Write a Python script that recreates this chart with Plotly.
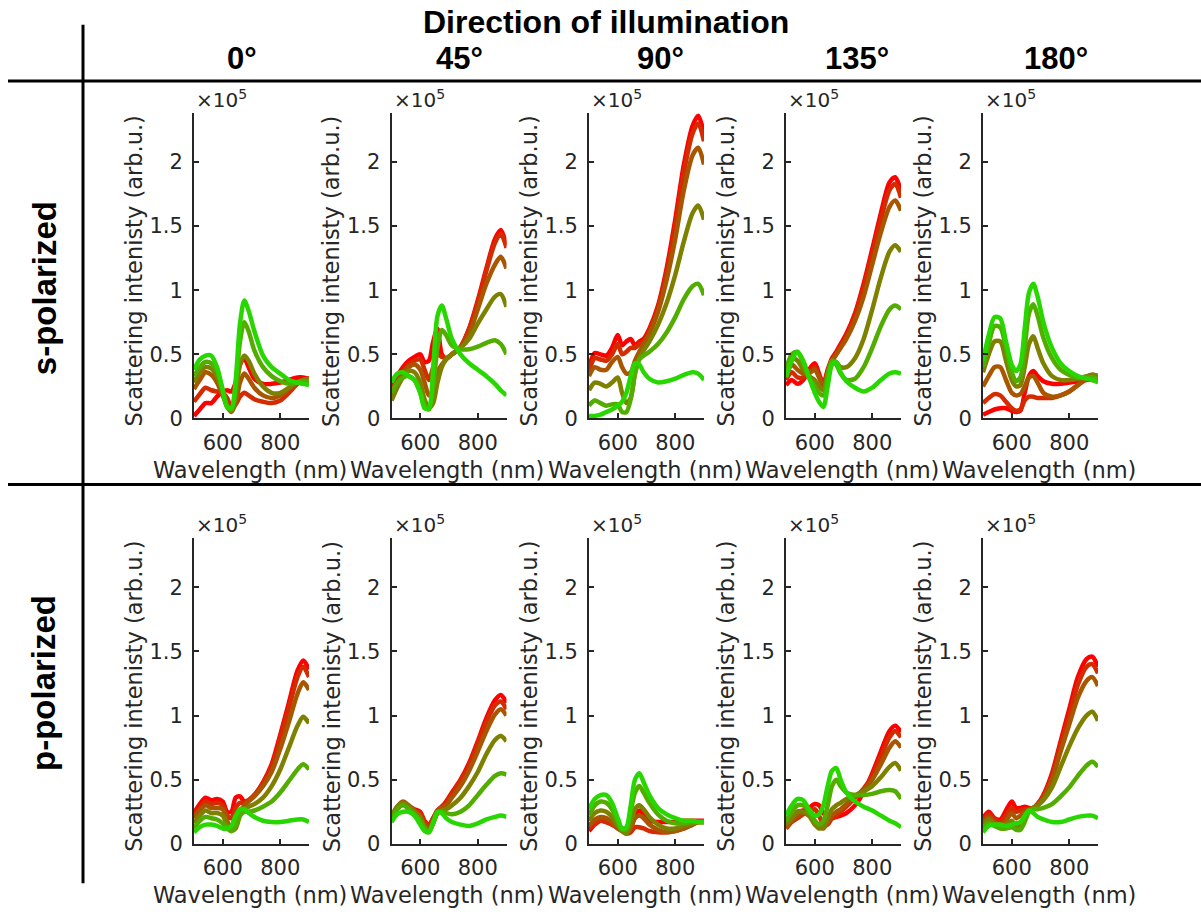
import plotly.graph_objects as go

# Wavelength grid (nm) and series values (units of 1e5, arb.u.)
WL = [500, 520, 540, 560, 580, 600, 615, 630, 645, 660, 675, 690, 710, 740, 770, 800, 830, 860, 880, 900]
ANGLES = ["0°", "45°", "90°", "135°", "180°"]
ROW_LABELS = ["s-polarized", "p-polarized"]
SERIES_COLORS = ["rgb(255,0,0)", "rgb(212,43,0)", "rgb(169,86,0)",
                 "rgb(126,129,0)", "rgb(83,172,0)", "rgb(40,215,0)"]

S0 = [
    [0.02,0.07,0.12,0.12,0.17,0.21,0.22,0.21,0.28,0.42,0.47,0.40,0.31,0.27,0.27,0.28,0.30,0.32,0.32,0.31],
    [0.13,0.19,0.24,0.22,0.21,0.20,0.16,0.09,0.11,0.17,0.20,0.18,0.15,0.13,0.12,0.14,0.20,0.27,0.30,0.31],
    [0.23,0.30,0.36,0.34,0.28,0.18,0.10,0.05,0.12,0.28,0.35,0.31,0.24,0.18,0.16,0.18,0.23,0.28,0.30,0.31],
    [0.28,0.36,0.40,0.39,0.33,0.20,0.09,0.06,0.18,0.42,0.49,0.45,0.35,0.25,0.20,0.20,0.24,0.28,0.30,0.31],
    [0.33,0.40,0.44,0.43,0.37,0.22,0.10,0.07,0.25,0.60,0.75,0.68,0.53,0.40,0.33,0.29,0.27,0.28,0.29,0.29],
    [0.38,0.46,0.49,0.49,0.40,0.22,0.09,0.08,0.30,0.74,0.92,0.84,0.68,0.49,0.40,0.35,0.30,0.28,0.27,0.26],
]
S45 = [
    [0.25,0.33,0.40,0.45,0.48,0.50,0.44,0.45,0.60,0.70,0.50,0.47,0.50,0.55,0.70,0.92,1.17,1.40,1.47,1.35],
    [0.22,0.30,0.37,0.42,0.45,0.46,0.38,0.30,0.40,0.50,0.48,0.47,0.50,0.56,0.70,0.90,1.15,1.37,1.44,1.33],
    [0.17,0.27,0.35,0.40,0.42,0.38,0.28,0.18,0.22,0.36,0.42,0.46,0.50,0.55,0.66,0.85,1.05,1.20,1.26,1.17],
    [0.14,0.24,0.32,0.37,0.36,0.28,0.15,0.08,0.12,0.28,0.40,0.46,0.50,0.55,0.62,0.74,0.85,0.95,0.97,0.87],
    [0.20,0.28,0.32,0.33,0.30,0.20,0.10,0.07,0.25,0.55,0.69,0.65,0.57,0.54,0.54,0.56,0.59,0.61,0.58,0.50],
    [0.28,0.35,0.36,0.33,0.30,0.20,0.08,0.08,0.40,0.80,0.88,0.78,0.62,0.50,0.43,0.38,0.33,0.27,0.22,0.18],
]
S90 = [
    [0.40,0.51,0.50,0.49,0.55,0.65,0.57,0.60,0.62,0.57,0.60,0.62,0.70,0.88,1.17,1.55,1.98,2.28,2.36,2.22],
    [0.37,0.47,0.46,0.45,0.50,0.58,0.50,0.52,0.55,0.55,0.58,0.60,0.68,0.86,1.14,1.50,1.92,2.22,2.30,2.16],
    [0.33,0.40,0.38,0.38,0.44,0.48,0.40,0.35,0.36,0.45,0.52,0.58,0.66,0.83,1.08,1.40,1.78,2.05,2.11,1.98],
    [0.22,0.28,0.27,0.25,0.28,0.32,0.20,0.12,0.16,0.35,0.47,0.53,0.60,0.73,0.90,1.12,1.38,1.60,1.66,1.55],
    [0.10,0.14,0.12,0.10,0.11,0.11,0.05,0.05,0.15,0.35,0.46,0.49,0.52,0.58,0.67,0.79,0.93,1.03,1.05,0.96],
    [0.02,0.02,0.03,0.05,0.07,0.10,0.13,0.20,0.33,0.43,0.42,0.36,0.31,0.28,0.29,0.31,0.34,0.36,0.35,0.30],
]
S135 = [
    [0.26,0.30,0.27,0.30,0.38,0.43,0.35,0.27,0.38,0.47,0.52,0.58,0.66,0.82,1.05,1.32,1.60,1.84,1.88,1.77],
    [0.30,0.36,0.32,0.32,0.36,0.40,0.33,0.27,0.36,0.45,0.50,0.56,0.64,0.80,1.02,1.28,1.55,1.78,1.83,1.72],
    [0.33,0.42,0.38,0.35,0.35,0.38,0.32,0.25,0.35,0.45,0.50,0.55,0.62,0.76,0.95,1.20,1.45,1.65,1.70,1.62],
    [0.36,0.47,0.45,0.38,0.33,0.30,0.25,0.22,0.35,0.45,0.44,0.40,0.40,0.47,0.62,0.85,1.10,1.30,1.35,1.30],
    [0.38,0.50,0.52,0.43,0.32,0.25,0.20,0.18,0.33,0.45,0.42,0.35,0.30,0.31,0.40,0.55,0.72,0.85,0.88,0.85],
    [0.32,0.45,0.52,0.45,0.32,0.20,0.13,0.09,0.25,0.42,0.44,0.36,0.29,0.24,0.21,0.24,0.30,0.35,0.36,0.35],
]
S180 = [
    [0.03,0.05,0.07,0.08,0.08,0.06,0.05,0.06,0.20,0.33,0.37,0.33,0.29,0.27,0.27,0.28,0.29,0.30,0.30,0.29],
    [0.12,0.16,0.19,0.18,0.13,0.08,0.06,0.07,0.14,0.17,0.17,0.16,0.16,0.16,0.18,0.21,0.26,0.31,0.33,0.32],
    [0.25,0.33,0.40,0.40,0.30,0.20,0.18,0.19,0.25,0.32,0.33,0.28,0.20,0.17,0.18,0.21,0.26,0.32,0.34,0.33],
    [0.36,0.50,0.60,0.60,0.45,0.30,0.25,0.26,0.40,0.58,0.64,0.55,0.43,0.33,0.30,0.30,0.31,0.33,0.34,0.33],
    [0.40,0.58,0.72,0.71,0.55,0.36,0.29,0.32,0.55,0.82,0.89,0.80,0.63,0.47,0.38,0.34,0.32,0.32,0.32,0.31],
    [0.45,0.65,0.79,0.78,0.60,0.42,0.37,0.42,0.70,0.98,1.05,0.95,0.75,0.55,0.43,0.37,0.33,0.31,0.30,0.28],
]
P0 = [
    [0.24,0.31,0.36,0.34,0.35,0.33,0.25,0.25,0.36,0.37,0.33,0.34,0.38,0.48,0.62,0.85,1.10,1.35,1.43,1.36],
    [0.22,0.28,0.33,0.31,0.32,0.30,0.22,0.20,0.28,0.32,0.32,0.34,0.38,0.47,0.60,0.82,1.06,1.30,1.38,1.30],
    [0.20,0.26,0.30,0.28,0.28,0.27,0.18,0.12,0.15,0.25,0.30,0.33,0.37,0.45,0.56,0.74,0.95,1.17,1.26,1.20],
    [0.16,0.22,0.26,0.24,0.24,0.22,0.15,0.10,0.12,0.22,0.27,0.29,0.31,0.36,0.45,0.58,0.75,0.92,0.99,0.94],
    [0.12,0.18,0.21,0.20,0.19,0.16,0.12,0.10,0.14,0.22,0.25,0.25,0.26,0.29,0.33,0.40,0.49,0.58,0.62,0.58],
    [0.09,0.13,0.15,0.15,0.14,0.12,0.12,0.14,0.22,0.27,0.27,0.24,0.21,0.18,0.17,0.17,0.18,0.19,0.19,0.17],
]
P45 = [
    [0.20,0.27,0.31,0.29,0.27,0.25,0.18,0.15,0.20,0.26,0.29,0.33,0.40,0.50,0.63,0.80,0.98,1.12,1.16,1.10],
    [0.20,0.28,0.32,0.29,0.26,0.24,0.17,0.14,0.20,0.26,0.29,0.32,0.39,0.49,0.61,0.78,0.95,1.08,1.11,1.05],
    [0.21,0.29,0.33,0.30,0.26,0.22,0.15,0.12,0.18,0.25,0.28,0.30,0.36,0.45,0.57,0.72,0.88,1.01,1.05,1.00],
    [0.21,0.29,0.32,0.29,0.25,0.20,0.13,0.10,0.16,0.24,0.26,0.27,0.30,0.36,0.45,0.56,0.70,0.81,0.84,0.80],
    [0.19,0.27,0.30,0.27,0.23,0.18,0.12,0.09,0.16,0.24,0.25,0.24,0.23,0.25,0.30,0.38,0.46,0.53,0.55,0.54],
    [0.17,0.23,0.25,0.25,0.22,0.15,0.10,0.09,0.17,0.25,0.24,0.20,0.17,0.15,0.14,0.16,0.19,0.21,0.22,0.21],
]
P90 = [
    [0.10,0.15,0.18,0.17,0.15,0.13,0.12,0.09,0.12,0.22,0.26,0.22,0.18,0.17,0.17,0.17,0.18,0.18,0.18,0.18],
    [0.12,0.16,0.18,0.17,0.15,0.12,0.10,0.08,0.09,0.13,0.13,0.12,0.10,0.09,0.09,0.10,0.12,0.15,0.17,0.17],
    [0.14,0.19,0.21,0.20,0.17,0.12,0.10,0.08,0.12,0.20,0.22,0.20,0.15,0.11,0.09,0.10,0.12,0.15,0.17,0.17],
    [0.18,0.24,0.26,0.25,0.21,0.14,0.10,0.08,0.16,0.27,0.30,0.27,0.21,0.15,0.12,0.12,0.14,0.16,0.17,0.17],
    [0.22,0.30,0.33,0.32,0.27,0.17,0.11,0.11,0.25,0.40,0.45,0.40,0.32,0.23,0.18,0.16,0.16,0.17,0.17,0.17],
    [0.27,0.35,0.38,0.38,0.32,0.20,0.12,0.13,0.30,0.50,0.55,0.48,0.38,0.28,0.23,0.20,0.18,0.18,0.17,0.17],
]
P135 = [
    [0.13,0.20,0.25,0.26,0.28,0.31,0.30,0.24,0.20,0.20,0.21,0.22,0.24,0.30,0.40,0.55,0.72,0.88,0.92,0.87],
    [0.12,0.17,0.20,0.23,0.25,0.27,0.22,0.15,0.15,0.20,0.22,0.25,0.29,0.36,0.43,0.53,0.68,0.83,0.88,0.83],
    [0.13,0.18,0.22,0.24,0.22,0.18,0.14,0.12,0.17,0.22,0.25,0.27,0.31,0.37,0.42,0.50,0.62,0.75,0.80,0.75],
    [0.15,0.20,0.25,0.25,0.22,0.15,0.12,0.13,0.20,0.27,0.30,0.32,0.35,0.38,0.41,0.45,0.52,0.60,0.63,0.57],
    [0.18,0.25,0.30,0.30,0.25,0.18,0.15,0.18,0.30,0.45,0.50,0.45,0.40,0.38,0.38,0.39,0.41,0.42,0.41,0.35],
    [0.22,0.30,0.35,0.34,0.27,0.22,0.23,0.30,0.45,0.57,0.59,0.50,0.40,0.33,0.29,0.26,0.22,0.18,0.16,0.13],
]
P180 = [
    [0.20,0.25,0.20,0.19,0.26,0.33,0.28,0.28,0.29,0.28,0.28,0.31,0.38,0.55,0.80,1.05,1.30,1.44,1.46,1.38],
    [0.18,0.23,0.19,0.17,0.22,0.28,0.25,0.26,0.27,0.27,0.28,0.31,0.37,0.53,0.77,1.00,1.24,1.38,1.40,1.33],
    [0.17,0.21,0.17,0.15,0.18,0.24,0.20,0.22,0.25,0.27,0.28,0.30,0.36,0.50,0.72,0.93,1.14,1.27,1.30,1.23],
    [0.15,0.19,0.15,0.13,0.15,0.18,0.14,0.15,0.20,0.26,0.28,0.30,0.34,0.44,0.60,0.76,0.90,1.00,1.03,0.96],
    [0.12,0.16,0.14,0.12,0.12,0.13,0.11,0.11,0.17,0.25,0.27,0.27,0.28,0.31,0.37,0.44,0.53,0.61,0.64,0.60],
    [0.09,0.14,0.15,0.15,0.14,0.15,0.16,0.17,0.22,0.26,0.24,0.21,0.19,0.17,0.17,0.19,0.21,0.22,0.22,0.20],
]
PANELS = [[S0, S45, S90, S135, S180], [P0, P45, P90, P135, P180]]

Y_TICKS = [0, 0.5, 1, 1.5, 2]
Y_TICKTEXT = ["0", "0.5", "1", "1.5", "2"]
X_TICKS = [600, 800]
X_RANGE = [500, 900]
Y_RANGE = [0, 2.385]

# ---------------- layout geometry (pixels) ----------------
FW, FH = 1201, 920
def px(x): return x / FW
def py(y): return 1 - y / FH

AX_LEFT = [194, 391.5, 589, 786, 983]
AX_W = 115
ROW_TOP = [114, 545]
ROW_BOT = [424, 855]
TXT = "#262626"
FONT = "DejaVu Sans"
HFONT = "Liberation Sans"

fig = go.Figure()
layout = dict(width=FW, height=FH, margin=dict(l=0, r=0, t=0, b=0),
              paper_bgcolor="white", plot_bgcolor="white", showlegend=False)
annotations = []

for r in range(2):
    for c in range(5):
        k = r * 5 + c + 1
        sfx = "" if k == 1 else str(k)
        left = AX_LEFT[c]
        layout["xaxis" + sfx] = dict(
            domain=[px(left), px(left + AX_W)], anchor="y" + sfx, range=X_RANGE,
            tickvals=X_TICKS, ticks="inside", ticklen=5, tickwidth=1.5, tickcolor=TXT,
            showline=True, linecolor=TXT, linewidth=2, showgrid=False, zeroline=False,
            tickfont=dict(family=FONT, size=21, color=TXT), ticklabelstandoff=4)
        layout["yaxis" + sfx] = dict(
            domain=[py(ROW_BOT[r]), py(ROW_TOP[r])], anchor="x" + sfx, range=Y_RANGE,
            tickvals=Y_TICKS, ticktext=Y_TICKTEXT, ticks="inside", ticklen=5, tickwidth=1.5,
            tickcolor=TXT, showline=True, linecolor=TXT, linewidth=2, showgrid=False,
            zeroline=False, tickfont=dict(family=FONT, size=21, color=TXT), ticklabelstandoff=5)
        for i, ys in enumerate(PANELS[r][c]):
            fig.add_trace(go.Scatter(
                x=WL, y=ys, mode="lines", xaxis="x" + sfx, yaxis="y" + sfx,
                line=dict(color=SERIES_COLORS[i], width=4.5, shape="spline", smoothing=0.8),
                hoverinfo="skip"))
        top, bot = ROW_TOP[r], ROW_BOT[r]
        annotations.append(dict(text="×10<sup>5</sup>", x=px(left), y=py(top + 1),
                                xref="paper", yref="paper", xanchor="left", yanchor="bottom",
                                showarrow=False, font=dict(family=FONT, size=20, color=TXT)))
        annotations.append(dict(text="Scattering intenisty (arb.u.)", textangle=-90,
                                x=px(left - 60), y=py((top + bot) / 2 + 6), xref="paper", yref="paper",
                                xanchor="center", yanchor="middle", showarrow=False,
                                font=dict(family=FONT, size=22.5, color=TXT)))
        annotations.append(dict(text="Wavelength (nm)", x=px(left + AX_W / 2 - 2), y=py(bot + 52),
                                xref="paper", yref="paper", xanchor="center", yanchor="middle",
                                showarrow=False, font=dict(family=FONT, size=22.5, color=TXT)))

# headers
annotations.append(dict(text="<b>Direction of illumination</b>", x=px(606), y=py(22),
                        xref="paper", yref="paper", xanchor="center", yanchor="middle",
                        showarrow=False, font=dict(family=HFONT, size=32, color="black")))
for cx, lab in zip([242, 459, 660, 857, 1056], ANGLES):
    annotations.append(dict(text="<b>" + lab + "</b>", x=px(cx), y=py(59),
                            xref="paper", yref="paper", xanchor="center", yanchor="middle",
                            showarrow=False, font=dict(family=HFONT, size=31, color="black")))
for cy, lab in zip([292, 692], ROW_LABELS):
    annotations.append(dict(text="<b>" + lab + "</b>", x=px(44), y=py(cy), textangle=-90,
                            xref="paper", yref="paper", xanchor="center", yanchor="middle",
                            showarrow=False, font=dict(family=HFONT, size=33, color="black")))

shapes = [
    dict(type="line", xref="paper", yref="paper", x0=px(8), x1=1, y0=py(82), y1=py(82),
         line=dict(color="black", width=3)),
    dict(type="line", xref="paper", yref="paper", x0=px(8), x1=1, y0=py(491), y1=py(491),
         line=dict(color="black", width=3)),
    dict(type="line", xref="paper", yref="paper", x0=px(83), x1=px(83), y0=py(25), y1=py(895),
         line=dict(color="black", width=3)),
]
layout["annotations"] = annotations
layout["shapes"] = shapes
fig.update_layout(**layout)
fig.write_html("out.html")
